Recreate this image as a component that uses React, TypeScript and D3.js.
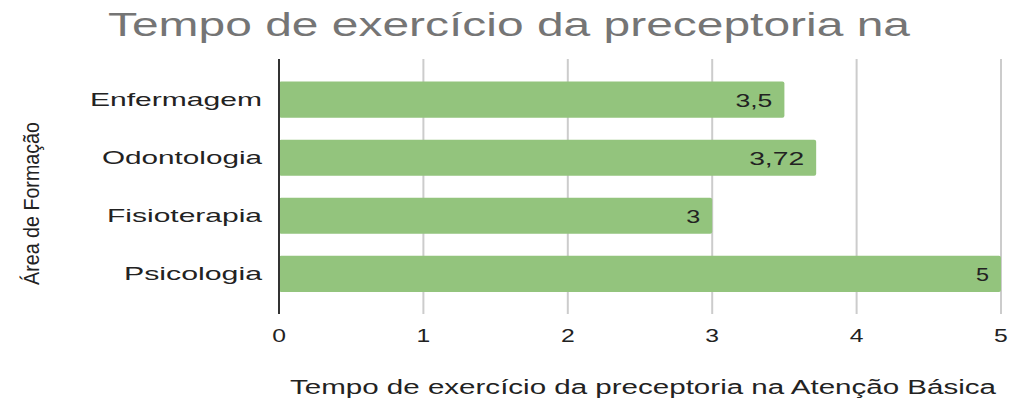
import React from "react";
import * as d3 from "d3";

const categories = ["Enfermagem", "Odontologia", "Fisioterapia", "Psicologia"];
const values = [3.5, 3.72, 3, 5];
const valueLabels = ["3,5", "3,72", "3", "5"];
const xTicks = [0, 1, 2, 3, 4, 5];
const title = "Tempo de exercício da preceptoria na";
const xTitle = "Tempo de exercício da preceptoria na Atenção Básica";
const yTitle = "Área de Formação";

// measured label widths (the reference text is horizontally stretched)
const catWidths = [172, 160, 155, 138];
const valWidths = [37, 55, 14, 13];

const W = 1012;
const H = 399;
const FONT = "'Liberation Sans', Arial, sans-serif";

export default function App() {
  const x = d3.scaleLinear().domain([0, 5]).range([279, 1001]);
  const y = d3
    .scaleBand<string>()
    .domain(categories)
    .range([70, 303.5])
    .paddingInner(0.38)
    .paddingOuter(0.2);

  return (
    <svg
      width={W}
      height={H}
      style={{ position: "absolute", left: 0, top: 0, background: "#fff" }}
      fontFamily={FONT}
    >
      <rect x={0} y={0} width={W} height={H} fill="#fff" />
      <text
        x={108}
        y={36}
        fontSize={33}
        fill="#757575"
        textLength={802}
        lengthAdjust="spacingAndGlyphs"
      >
        {title}
      </text>

      {/* gridlines */}
      {xTicks.slice(1).map((t) => (
        <line
          key={"g" + t}
          x1={x(t)}
          x2={x(t)}
          y1={59}
          y2={314}
          stroke="#cccccc"
          strokeWidth={2}
        />
      ))}

      {/* bars */}
      {categories.map((c, i) => (
        <rect
          key={c}
          x={x(0)}
          y={y(c)}
          width={x(values[i]) - x(0)}
          height={y.bandwidth()}
          fill="#93c47d"
          rx={2}
        />
      ))}

      {/* axis line */}
      <line x1={x(0)} x2={x(0)} y1={59} y2={314} stroke="#333" strokeWidth={2} />

      {/* value labels */}
      {categories.map((c, i) => (
        <text
          key={"v" + c}
          x={x(values[i]) - 12 - valWidths[i]}
          y={(y(c) as number) + y.bandwidth() / 2 + 7}
          fontSize={19}
          fill="#222"
          textLength={valWidths[i]}
          lengthAdjust="spacingAndGlyphs"
        >
          {valueLabels[i]}
        </text>
      ))}

      {/* category labels */}
      {categories.map((c, i) => (
        <text
          key={"c" + c}
          x={262 - catWidths[i]}
          y={(y(c) as number) + y.bandwidth() / 2 + 6.5}
          fontSize={18.5}
          fill="#222"
          textLength={catWidths[i]}
          lengthAdjust="spacingAndGlyphs"
        >
          {c}
        </text>
      ))}

      {/* x tick labels */}
      {xTicks.map((t) => (
        <text
          key={"t" + t}
          x={x(t)}
          y={342}
          fontSize={19}
          fill="#222"
          textAnchor="middle"
          transform={`translate(${x(t)},0) scale(1.3,1) translate(${-x(t)},0)`}
        >
          {t}
        </text>
      ))}

      {/* x axis title */}
      <text
        x={290}
        y={394}
        fontSize={20}
        fill="#222"
        textLength={706}
        lengthAdjust="spacingAndGlyphs"
      >
        {xTitle}
      </text>

      {/* y axis title */}
      <text
        transform="translate(39,285) scale(1.3,1) rotate(-90)"
        x={0}
        y={0}
        fontSize={17.5}
        fill="#222"
        textLength={163}
        lengthAdjust="spacingAndGlyphs"
      >
        {yTitle}
      </text>
    </svg>
  );
}
